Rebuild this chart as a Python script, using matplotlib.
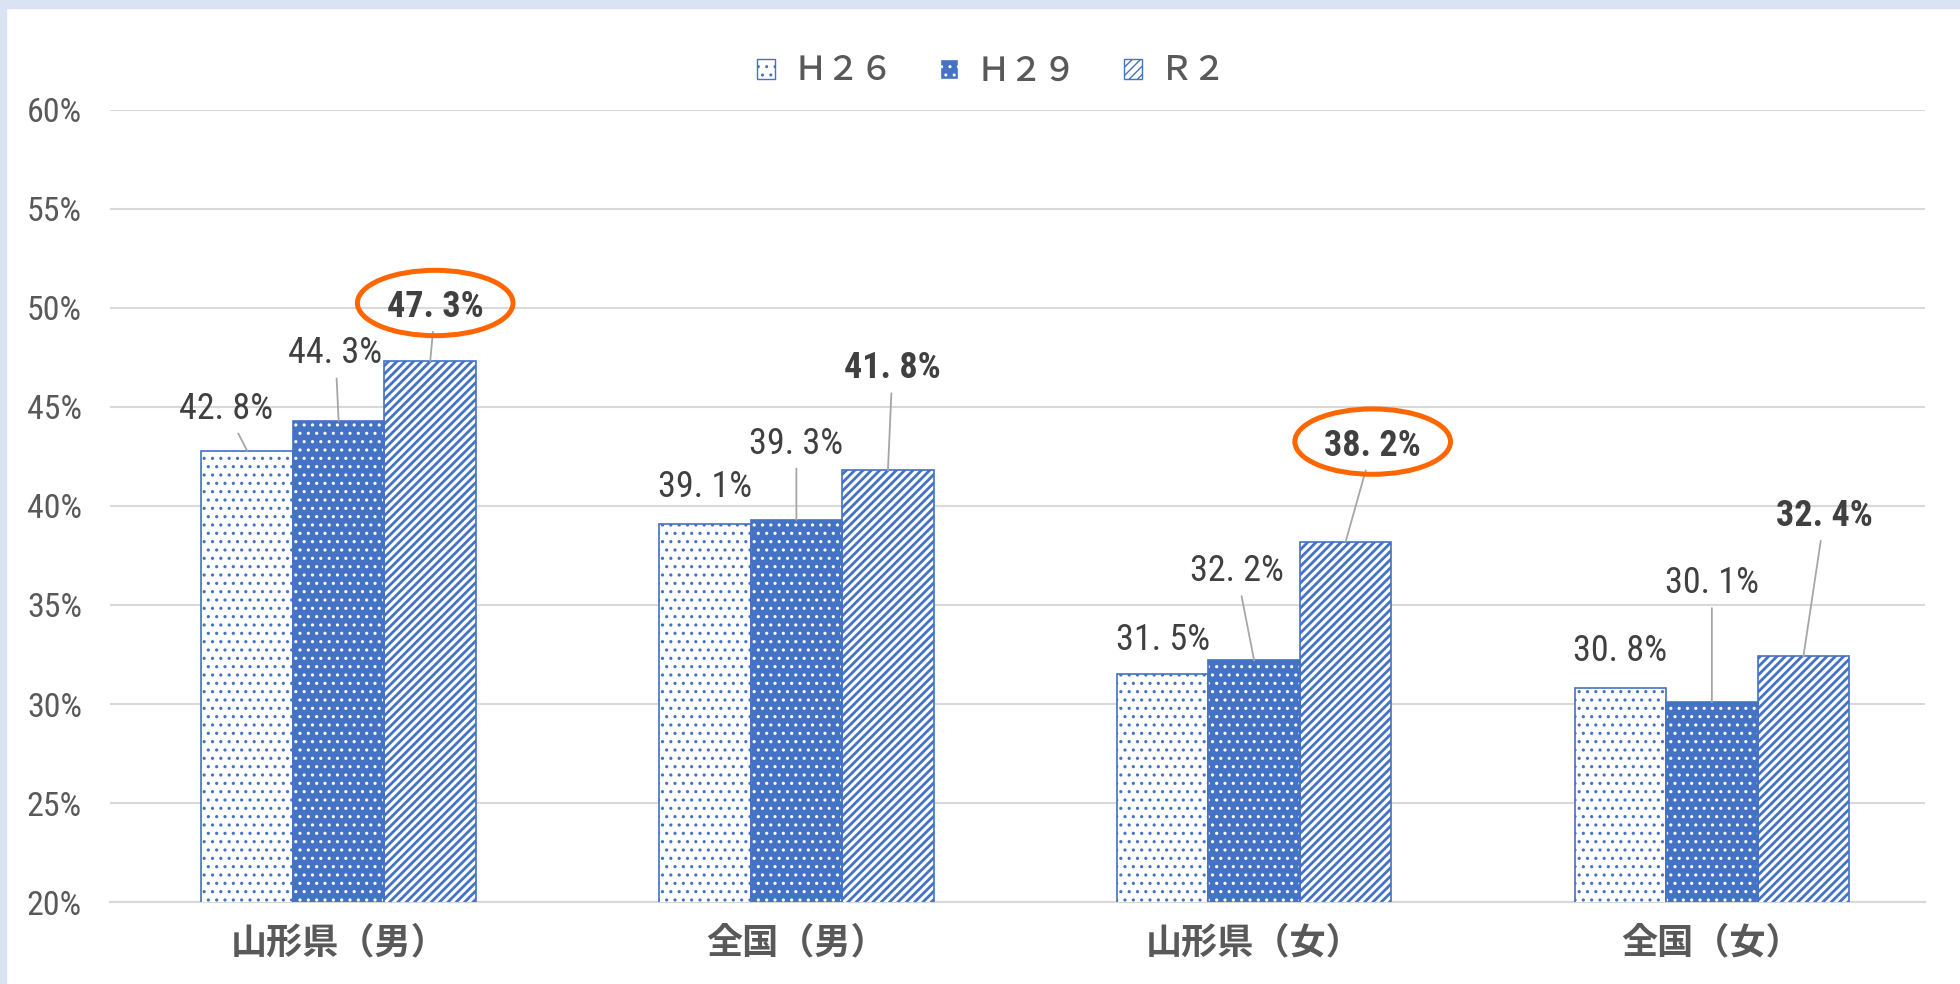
import matplotlib
matplotlib.use('Agg')
import matplotlib.pyplot as plt
from matplotlib import font_manager
from matplotlib.patches import Patch, Ellipse, Rectangle
import numpy as np

# data
categories = ['山形県（男）', '全国（男）', '山形県（女）', '全国（女）']
series_names = ['Ｈ２６', 'Ｈ２９', 'Ｒ２']
h26 = [42.8, 39.1, 31.5, 30.8]
h29 = [44.3, 39.3, 32.2, 30.1]
r2 = [47.3, 41.8, 38.2, 32.4]
yticks = [20, 25, 30, 35, 40, 45, 50, 55, 60]
circled = [0, 2]   # R2 labels circled in orange

# label offsets from bar top (dx, dy)
off_h26 = [(-0.047, 2.1), (0.0, 1.85), (0.0, 1.75), (0.0, 1.88)]
off_h29 = [(-0.007, 3.4), (0.0, 3.85), (-0.038, 4.5), (0.0, 6.0)]
off_r2 = [(0.011, 2.75), (0.01, 5.15), (0.059, 4.85), (0.046, 7.1)]

blue = '#4472C4'
grid_c = '#D9D9D9'

# pick a narrow font that has a static bold face
fonts = font_manager.fontManager.ttflist
def has_bold(name):
    return any(f.name == name and f.weight in (700, 'bold') for f in fonts) and \
        any(f.name == name and f.weight in (400, 'normal', 'regular') for f in fonts)
num_family, num_stretch = 'DejaVu Sans', 'condensed'
for cand in ['Liberation Sans Narrow', 'Arial Narrow', 'Roboto Condensed', 'PT Sans Narrow',
             'IBM Plex Sans Condensed']:
    if has_bold(cand):
        num_family, num_stretch = cand, 'normal'
        break
num_font = dict(family=[num_family, 'DejaVu Sans'], stretch=num_stretch)
jp_font = ['Noto Sans CJK JP', 'DejaVu Sans']

fig = plt.figure(figsize=(19.6, 9.84), dpi=100)
ax = fig.add_axes([0.056, 0.0833, 0.926, 0.805])

x = np.arange(len(categories))
w = 0.2

def set_hlw(bars, lw):
    for b in bars:
        if hasattr(b, 'set_hatch_linewidth'):
            b.set_hatch_linewidth(lw)

with plt.rc_context({'hatch.linewidth': 1.1}):
    b1 = ax.bar(x - w, h26, w, color='white', edgecolor=blue, hatch='..', linewidth=1.2, zorder=3)
    b2 = ax.bar(x, h29, w, color=blue, edgecolor='white', hatch='..', linewidth=0, zorder=3)
    ax.bar(x, h29, w, color='none', edgecolor=blue, linewidth=1.2, zorder=4)
set_hlw(b1, 1.1)
set_hlw(b2, 1.1)
with plt.rc_context({'hatch.linewidth': 2.0}):
    b3 = ax.bar(x + w, r2, w, color='white', edgecolor=blue, hatch='////', linewidth=1.2, zorder=3)
set_hlw(b3, 2.0)

ax.set_ylim(20, 60)
ax.set_xlim(-0.5, 3.465)
ax.set_yticks(yticks)
ax.set_yticklabels([f'{t}%' for t in yticks], fontsize=24.5, color='#595959', **num_font)
ax.set_xticks(x)
ax.set_xticklabels(categories, family=jp_font, fontsize=26, fontweight='bold', color='#595959')
ax.tick_params(axis='y', length=0, pad=20)
ax.tick_params(axis='x', length=0, pad=16)
ax.grid(axis='y', color=grid_c, linewidth=1.5, zorder=0)
ax.set_axisbelow(True)
for s in ['top', 'right', 'left']:
    ax.spines[s].set_visible(False)
ax.spines['bottom'].set_color(grid_c)
ax.spines['bottom'].set_linewidth(1.5)

# data labels with leader lines
for vals, offs, shift, bold in [(h26, off_h26, -w, False), (h29, off_h29, 0, False), (r2, off_r2, w, True)]:
    for i, v in enumerate(vals):
        bx = i + shift
        tx, ty = bx + offs[i][0], v + offs[i][1]
        txt = f'{v:.1f}'.replace('.', '. ') + '%'
        arrow = dict(arrowstyle='-', color='#A6A6A6', linewidth=1.3, shrinkA=3, shrinkB=0) if offs[i][1] > 2.0 else None
        ax.annotate(txt, xy=(bx, v), xytext=(tx, ty), ha='center', va='center',
                    fontsize=26, fontweight='bold' if bold else 'normal',
                    color='#404040', arrowprops=arrow, zorder=6, **num_font)
        if bold and i in circled:
            ax.add_patch(Ellipse((tx, ty + 0.2), 0.34, 3.3, fill=False, edgecolor='#FF6600',
                                 linewidth=3.6, zorder=7, clip_on=False))

# legend
handles = [Patch(facecolor='white', edgecolor=blue, hatch='..'),
           Patch(facecolor=blue, edgecolor='white', hatch='..'),
           Patch(facecolor='white', edgecolor=blue, hatch='////')]
leg = fig.legend(handles, series_names, loc='center', bbox_to_anchor=(0.506, 0.928), ncol=3,
                 frameon=False, prop={'family': jp_font, 'size': 24, 'weight': 'medium'},
                 handlelength=0.55, handleheight=0.55, handletextpad=0.55, columnspacing=1.4)
for t in leg.get_texts():
    t.set_color('#595959')

# light blue frame on top and left
fig.add_artist(Rectangle((0, 1 - 8 / 984), 1, 8 / 984, transform=fig.transFigure, color='#DAE3F3', zorder=10))
fig.add_artist(Rectangle((0, 0), 6 / 1960, 1, transform=fig.transFigure, color='#DAE3F3', zorder=10))

fig.savefig('out.png', dpi=100)
